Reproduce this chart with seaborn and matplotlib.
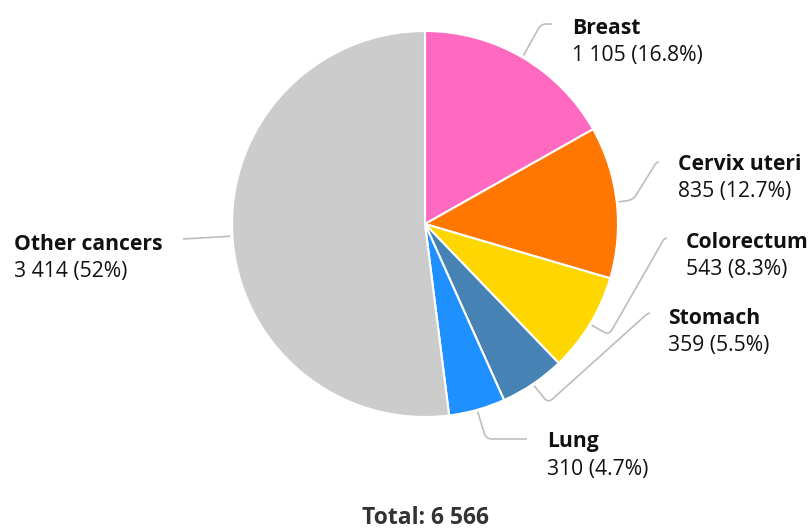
import numpy as np
import matplotlib
matplotlib.use("Agg")
import matplotlib.pyplot as plt
from matplotlib.path import Path
from matplotlib.patches import PathPatch
import seaborn as sns

categories = ["Breast", "Cervix uteri", "Colorectum", "Stomach", "Lung", "Other cancers"]
counts = [1105, 835, 543, 359, 310, 3414]
colors = ["#FF69C0", "#FF7700", "#FFD700", "#4682B4", "#1E90FF", "#CCCCCC"]
total_label = "Total: 6 566"

sns.set_theme(style="white")
plt.rcParams["font.family"] = ["Open Sans", "Noto Sans", "DejaVu Sans"]

W, H = 811, 530
fig = plt.figure(figsize=(W / 100, H / 100), dpi=100)
ax = fig.add_axes([0, 0, 1, 1])

def Y(y):
    return H - y

cx, cy, R = 425, 224, 193
ax.pie(counts, colors=colors, startangle=90, counterclock=False,
       center=(cx, Y(cy)), radius=R,
       wedgeprops=dict(edgecolor="white", linewidth=1.5))
ax.set_xlim(0, W)
ax.set_ylim(0, H)
ax.set_aspect("equal")
ax.axis("off")

total = sum(counts)

def fmt_num(v):
    return f"{v:,}".replace(",", " ")

def fmt_pct(v):
    s = f"{v:.1f}"
    if s.endswith(".0"):
        s = s[:-2]
    return s + "%"

layout = {
    "Breast": dict(tx=572, ty=28, pts=[(541, 24), (552, 24)]),
    "Cervix uteri": dict(tx=678, ty=165, pts=[(633, 200), (656, 163), (659, 162)]),
    "Colorectum": dict(tx=686, ty=243, pts=[(609, 335), (664, 239), (667, 238)]),
    "Stomach": dict(tx=668, ty=318, pts=[(548, 403), (647, 314), (650, 313)]),
    "Lung": dict(tx=547, ty=442, pts=[(486, 439), (527, 439)]),
    "Other cancers": dict(tx=14, ty=244, pts=[(183, 239)]),
}

def rounded_path(points, rad=6):
    verts = [points[0]]
    codes = [Path.MOVETO]
    for i in range(1, len(points) - 1):
        p0, p1, p2 = map(np.array, (points[i - 1], points[i], points[i + 1]))
        d1 = p1 - p0
        d2 = p2 - p1
        l1, l2 = np.linalg.norm(d1), np.linalg.norm(d2)
        r = min(rad, l1 / 2, l2 / 2)
        a = p1 - d1 / l1 * r
        b = p1 + d2 / l2 * r
        verts += [tuple(a), tuple(p1), tuple(b)]
        codes += [Path.LINETO, Path.CURVE3, Path.CURVE3]
    verts.append(points[-1])
    codes.append(Path.LINETO)
    return Path(verts, codes)

cum = 0
for name, v in zip(categories, counts):
    mid = (cum + v / 2) / total * 360.0
    cum += v
    theta = np.deg2rad(90 - mid)
    sx = cx + (R + 2) * np.cos(theta)
    sy = cy - (R + 2) * np.sin(theta)
    L = layout[name]
    pts = [(sx, sy)] + L["pts"]
    pts = [(x, Y(y)) for x, y in pts]
    ax.add_patch(PathPatch(rounded_path(pts), facecolor="none",
                           edgecolor="#BDBDBD", linewidth=1.2))
    ax.text(L["tx"], Y(L["ty"]), name, fontsize=15.2, fontweight="bold",
            color="#111111", ha="left", va="center")
    ax.text(L["tx"], Y(L["ty"] + 27), f"{fmt_num(v)} ({fmt_pct(v / total * 100)})",
            fontsize=15.2, color="#111111", ha="left", va="center")

ax.text(cx, Y(518), total_label, fontsize=16.5, fontweight="bold",
        color="#333333", ha="center", va="center")

fig.savefig("out.png", dpi=100, facecolor="white")
